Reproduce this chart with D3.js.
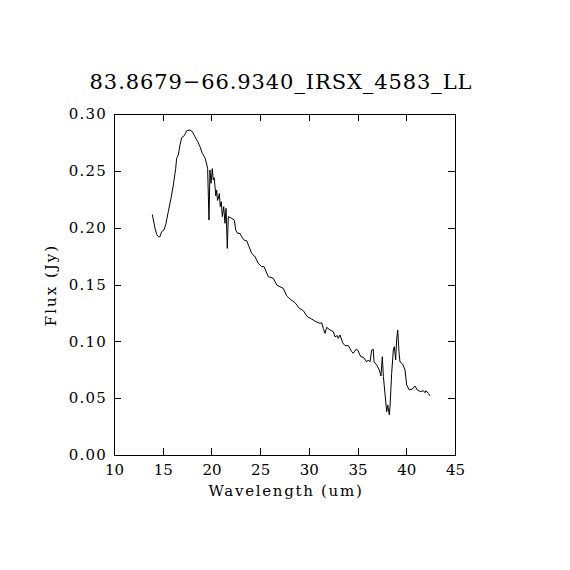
<!DOCTYPE html>
<html>
<head>
<meta charset="utf-8">
<script src="https://cdn.jsdelivr.net/npm/d3@7"></script>
<style>
  body { margin: 0; background: #fff; }
  text { font-family: "DejaVu Serif", "Liberation Serif", serif; fill: #000; }
</style>
</head>
<body>
<div id="chart"></div>
<script>
// spectre
const titre = "83.8679\u221266.9340_IRSX_4583_LL";

const wavelength = [
  13.93, 14.21, 14.38, 14.55, 14.72, 14.89, 15.13, 15.34, 15.57, 15.85,
  16.09, 16.33, 16.43, 16.60, 16.77, 16.95, 17.22, 17.46, 17.80, 18.04,
  18.31, 18.59, 18.83, 19.06, 19.34, 19.51, 19.61, 19.75, 19.85, 19.96,
  20.09, 20.19, 20.28, 20.37, 20.45, 20.54, 20.62, 20.71, 20.81, 20.91,
  21.01, 21.12, 21.26, 21.39, 21.50, 21.63, 21.73, 22.08, 22.35, 22.49,
  22.70, 22.93, 23.10, 23.37, 23.62, 23.86, 24.13, 24.47, 24.81, 25.16,
  25.40, 25.84, 26.35, 26.70, 27.04, 27.38, 27.73, 28.06, 28.58, 29.02,
  29.43, 29.84, 30.29, 30.73, 31.14, 31.32, 31.48, 31.66, 31.83, 32.17,
  32.51, 32.68, 32.92, 33.02, 33.20, 33.47, 33.71, 34.05, 34.40, 34.56,
  34.84, 35.01, 35.32, 35.59, 35.94, 36.10, 36.28, 36.45, 36.61, 36.69,
  36.96, 37.23, 37.40, 37.54, 37.65, 37.81, 37.99, 38.10, 38.26, 38.33,
  38.50, 38.67, 38.77, 38.91, 39.01, 39.12, 39.25, 39.35, 39.63, 39.87,
  40.04, 40.31, 40.62, 40.89, 41.13, 41.48, 41.75, 41.92, 42.02, 42.26,
  42.43
];

const flux = [
  0.2117, 0.1994, 0.1941, 0.1920, 0.1920, 0.1965, 0.1980, 0.2038, 0.2140, 0.2258,
  0.2375, 0.2520, 0.2610, 0.2640, 0.2727, 0.2792, 0.2810, 0.2853, 0.2860, 0.2845,
  0.2800, 0.2757, 0.2712, 0.2654, 0.2615, 0.2560, 0.2520, 0.2067, 0.2507, 0.2390,
  0.2520, 0.2420, 0.2440, 0.2360, 0.2280, 0.2330, 0.2240, 0.2258, 0.2300, 0.2185,
  0.2228, 0.2097, 0.2185, 0.2038, 0.2170, 0.1818, 0.2097, 0.2082, 0.2067, 0.1980,
  0.1950, 0.1950, 0.1920, 0.1890, 0.1885, 0.1833, 0.1774, 0.1745, 0.1686, 0.1657,
  0.1657, 0.1569, 0.1554, 0.1496, 0.1480, 0.1466, 0.1399, 0.1372, 0.1340, 0.1290,
  0.1270, 0.1217, 0.1196, 0.1173, 0.1158, 0.1164, 0.1114, 0.1070, 0.1123, 0.1100,
  0.1085, 0.1040, 0.1050, 0.1026, 0.1056, 0.0988, 0.0962, 0.0962, 0.0909, 0.0895,
  0.0930, 0.0924, 0.0865, 0.0860, 0.0820, 0.0836, 0.0820, 0.0924, 0.0930, 0.0820,
  0.0792, 0.0748, 0.0695, 0.0865, 0.0690, 0.0543, 0.0380, 0.0440, 0.0352, 0.0425,
  0.0719, 0.0924, 0.0953, 0.0836, 0.1012, 0.1100, 0.0909, 0.0820, 0.0800, 0.0748,
  0.0616, 0.0572, 0.0580, 0.0607, 0.0572, 0.0557, 0.0566, 0.0548, 0.0566, 0.0543,
  0.0520
];

const xTicks = [10, 15, 20, 25, 30, 35, 40, 45];
const yTicks = [0, 0.05, 0.10, 0.15, 0.20, 0.25, 0.30];

// dimensions
const width = 570, height = 570;
const plotLeft = 114, plotRight = 455, plotTop = 114, plotBottom = 455;
const tick = 7;

const svg = d3.select("#chart").append("svg")
  .attr("width", width)
  .attr("height", height);

svg.append("rect").attr("width", width).attr("height", height).attr("fill", "#fff");

const x = d3.scaleLinear().domain([10, 45]).range([plotLeft, plotRight]);
const y = d3.scaleLinear().domain([0, 0.30]).range([plotBottom, plotTop]);

// axes (ticks vers l'intérieur)
const axBottom = svg.append("g").attr("transform", `translate(0,${plotBottom})`)
  .call(d3.axisBottom(x).tickValues(xTicks).tickFormat(d3.format("d"))
    .tickSizeInner(-tick).tickSizeOuter(0).tickPadding(9));
const axTop = svg.append("g").attr("transform", `translate(0,${plotTop})`)
  .call(d3.axisTop(x).tickValues(xTicks).tickFormat("")
    .tickSizeInner(-tick).tickSizeOuter(0));
const axLeft = svg.append("g").attr("transform", `translate(${plotLeft},0)`)
  .call(d3.axisLeft(y).tickValues(yTicks).tickFormat(d3.format(".2f"))
    .tickSizeInner(-tick).tickSizeOuter(0).tickPadding(7));
const axRight = svg.append("g").attr("transform", `translate(${plotRight},0)`)
  .call(d3.axisRight(y).tickValues(yTicks).tickFormat("")
    .tickSizeInner(-tick).tickSizeOuter(0));

[axBottom, axTop, axLeft, axRight].forEach(g => {
  g.select(".domain").remove();
  g.selectAll("line").attr("stroke", "#000").attr("shape-rendering", "crispEdges");
  g.selectAll("text").style("font-size", "15px").attr("fill", "#000");
});
axLeft.selectAll("text").style("letter-spacing", "1.2px");

// cadre
svg.append("rect")
  .attr("x", plotLeft).attr("y", plotTop)
  .attr("width", plotRight - plotLeft).attr("height", plotBottom - plotTop)
  .attr("fill", "none").attr("stroke", "#000")
  .attr("shape-rendering", "crispEdges");

// spectre
const pts = wavelength.map((w, i) => [w, flux[i]]);
svg.append("path")
  .datum(pts)
  .attr("d", d3.line().x(d => x(d[0])).y(d => y(d[1])))
  .attr("fill", "none")
  .attr("stroke", "#000")
  .attr("stroke-width", 1);

// textes
svg.append("text")
  .attr("x", 281).attr("y", 89)
  .attr("text-anchor", "middle")
  .style("font-size", "21px")
  .style("letter-spacing", "0.9px")
  .text(titre);

svg.append("text")
  .attr("x", 286).attr("y", 496)
  .attr("text-anchor", "middle")
  .style("font-size", "15px")
  .style("letter-spacing", "1.7px")
  .text("Wavelength (um)");

svg.append("text")
  .attr("transform", "translate(56,285) rotate(-90)")
  .attr("text-anchor", "middle")
  .style("font-size", "15px")
  .style("letter-spacing", "2px")
  .text("Flux (Jy)");
</script>
</body>
</html>
